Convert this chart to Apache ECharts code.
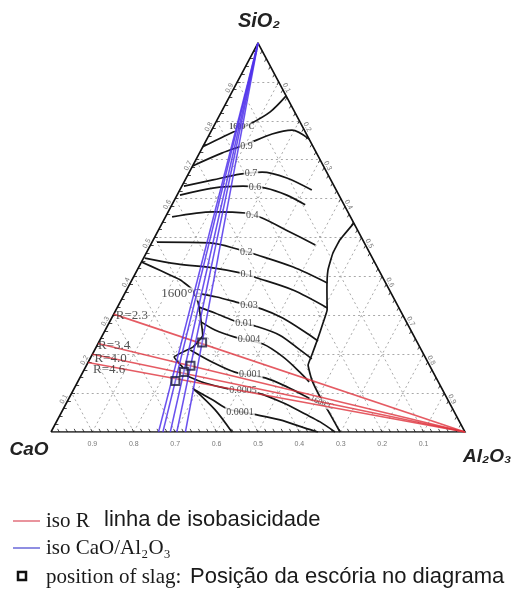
<!DOCTYPE html>
<html><head><meta charset="utf-8">
<script src="https://cdn.jsdelivr.net/npm/echarts@6/dist/echarts.min.js"></script>
<style>html,body{margin:0;padding:0;background:#fff}#c{width:513px;height:593px}</style>
</head><body><div id="c"></div>
<script>
// ---------- DATA (compositions in mass %, points given as [SiO2, Al2O3]; CaO = 100 - SiO2 - Al2O3) ----------
const tickValues = [0.1, 0.2, 0.3, 0.4, 0.5, 0.6, 0.7, 0.8, 0.9];
const bottomTickLabels = ['0.1','0.2','0.3','0.4','0.5','0.6','0.7','0.8','0.9']; // CaO
const leftTickLabels   = ['0.1','0.2','0.3','0.4','0.5','0.6','0.7','0.8','0.9']; // SiO2
const rightTickLabels  = ['0.1','0.2','0.3','0.4','0.5','0.6','0.7','0.8','0.9']; // Al2O3

const liquidusSiO2Side = [[73.3,0],[76.1,3.9],[79.2,8.5],[82.3,11.8],[86.4,13.6]];
const liquidusAl2O3Side = [[53.7,46.3],[49.4,45.1],[46.0,45.1],[41.6,46.1],[36.5,48.4],[31.4,51.0],[28.0,51.7],[23.7,52.5],[19.8,53.1],[17.2,53.5],[13.4,56.3],[9.0,60.5],[4.6,65.1],[0,69.8]];
const liquidusCaOSide = [[43.7,0],[41.6,5.5],[39.1,11.7],[36.5,16.0],[33.4,18.8],[29.3,21.5],[24.9,24.2],[21.9,23.4],[19.3,20.1],[16.5,23.7]];
const iso0_9 = [[68.4,0],[71.7,5.4],[74.0,10.3],[76.6,15.1],[77.6,19.4],[75.3,24.7]];
const iso0_7 = [[63.2,0.5],[64.8,6.7],[66.3,12.5],[66.8,17.6],[65.3,24.3],[62.2,31.9]];
const iso0_6 = [[60.9,0.7],[62.7,7.7],[63.2,14.8],[62.7,20.5],[60.9,26.5],[58.4,32.2]];
const iso0_4 = [[55.3,1.6],[56.6,10.8],[56.3,18.8],[55.0,23.5],[51.4,32.0],[48.1,39.8]];
const iso0_2 = [[48.8,1.2],[48.6,14.1],[46.8,22.3],[45.5,27.1],[42.4,37.3],[38.3,47.6]];
const iso0_1 = [[44.7,0.3],[43.2,8.8],[42.2,18.0],[40.9,25.3],[39.6,30.0],[36.5,40.2],[31.9,50.8]];
const iso0_03 = [[35.7,17.4],[34.7,22.7],[33.4,28.0],[31.6,35.2],[29.3,41.3],[25.4,49.1],[23.4,52.8]];
const iso0_01 = [[32.1,19.6],[30.6,24.3],[28.8,29.3],[27.2,35.9],[24.9,42.8],[21.1,49.6],[18.8,53.6]];
const iso0_004 = [[28.3,22.1],[26.2,26.5],[24.4,32.2],[22.6,39.9],[19.3,46.4],[15.4,52.4],[12.9,55.9]];
const iso0_001 = [[21.1,23.1],[18.0,29.9],[15.4,36.7],[13.9,44.8],[11.6,51.2],[9.0,57.3],[6.9,62.0]];
const iso0_0005 = [[14.4,25.7],[12.6,30.9],[11.1,37.3],[10.0,45.0],[7.5,52.3],[4.6,59.1],[2.6,63.7],[0,68.6]];
const iso0_0001 = [[10.8,29.4],[8.2,35.0],[5.9,39.8],[4.6,46.5],[3.1,53.8],[1.0,60.9],[0,64.5]];
const extraBoundary = [[11.3,28.6],[5.7,36.8],[0,43.7]];

const contourLabelTexts = ['1600°C','0.9','0.7','0.6','0.4','0.2','0.1','0.03','0.01','0.004','0.001','0.0005','0.0001','1600°C','1600°C'];
const contourLabelAt = [[78.4,6.9],[73.5,10.5],[66.6,15.0],[63.0,17.8],[55.8,20.7],[46.3,24.0],[40.4,27.1],[32.6,31.5],[28.0,32.6],[23.7,36.0],[14.7,40.8],[10.8,41.0],[5.1,43.1],[35.5,13.7],[7.5,61.7]];

const isoR = [2.3, 3.4, 4.0, 4.6];                 // CaO/SiO2
const isoCaOAl2O3 = [2.08, 2.29, 2.47, 2.70, 2.85]; // CaO/Al2O3
const slagCaO   = [52.0, 57.8, 60.2, 63.4];
const slagSiO2  = [23.0, 17.0, 15.4, 13.1];
const slagAl2O3 = [25.0, 25.2, 24.4, 23.5];

// ---------- helpers ----------
const T = (s, a) => [a / 100 + s / 200, s / 100];   // ternary -> cartesian (0..1)
const P = arr => arr.map(p => T(p[0], p[1]));

const series = [];

// grid lines (every 0.1)
const gridSegs = [];
tickValues.forEach(v => {
  const k = v * 100;
  gridSegs.push({coords: [T(k, 0), T(k, 100 - k)]});          // const SiO2
  gridSegs.push({coords: [T(0, 100 - k), T(100 - k, 0)]});    // const CaO
  gridSegs.push({coords: [T(0, k), T(100 - k, k)]});          // const Al2O3
});
series.push({type: 'lines', coordinateSystem: 'cartesian2d', silent: true, z: 1,
  data: gridSegs, lineStyle: {color: '#a0a0a0', width: 1, type: [2, 3], opacity: 0.9}});

// minor ticks on edges
const tickSegs = [];
for (let i = 1; i < 50; i++) {
  const v = i * 2, L = 0.8;
  tickSegs.push({coords: [T(0, v), T(L, v - L)]});
  tickSegs.push({coords: [T(v, 0), T(v, L)]});
  tickSegs.push({coords: [T(100 - v, v), T(100 - v - L, v)]});
}
series.push({type: 'lines', coordinateSystem: 'cartesian2d', silent: true, z: 2,
  data: tickSegs, lineStyle: {color: '#333', width: 0.9, opacity: 1}});

// triangle edges
series.push({type: 'lines', coordinateSystem: 'cartesian2d', polyline: true, silent: true, z: 3,
  data: [{coords: [T(0, 0), T(100, 0), T(0, 100), T(0, 0)]}], lineStyle: {color: '#111', width: 1.6, opacity: 1}});

// contour curves
const curves = [liquidusSiO2Side, iso0_9, iso0_7, iso0_6, iso0_4, iso0_2, iso0_1, iso0_03, iso0_01,
  iso0_004, iso0_001, iso0_0005, iso0_0001, extraBoundary];
curves.forEach(c => series.push({type: 'line', data: P(c), smooth: 0.3, symbol: 'none', silent: true, z: 4,
  lineStyle: {color: '#161616', width: 1.7}}));
[liquidusAl2O3Side, liquidusCaOSide].forEach(c => series.push({type: 'line', data: P(c), smooth: 0.12,
  symbol: 'none', silent: true, z: 4, lineStyle: {color: '#161616', width: 1.7}}));

// contour labels
const labelStyles = [
  {fontSize: 8, fontWeight: 'bold'}, {}, {}, {}, {}, {}, {}, {}, {}, {}, {}, {}, {},
  {fontSize: 13}, {fontSize: 8, rotate: -22}
];
series.push({type: 'scatter', symbolSize: 0, silent: true, z: 6,
  data: contourLabelTexts.map((t, i) => ({name: t, value: T(contourLabelAt[i][0], contourLabelAt[i][1]),
    label: Object.assign({show: true, position: 'inside', formatter: '{b}', fontFamily: 'Liberation Serif',
      fontSize: 10, color: '#1a1a1a', backgroundColor: '#fff', padding: [0, 1]}, labelStyles[i])}))});

// iso-R lines (red)
series.push({type: 'lines', coordinateSystem: 'cartesian2d', silent: true, z: 7,
  data: isoR.map(r => ({coords: [T(100 / (1 + r), 0), T(0, 100)]})),
  lineStyle: {color: 'rgb(222,50,60)', width: 1.6, opacity: 0.8}});
const rLabelOffsets = [[1, 1], [-1, 2], [1, 4], [4, 7]];
series.push({type: 'scatter', symbolSize: 0, silent: true, z: 8,
  data: isoR.map((r, i) => ({name: 'R=' + r.toFixed(1), value: T(100 / (1 + r), 0),
    label: {show: true, position: 'right', distance: 1, offset: rLabelOffsets[i], formatter: '{b}',
      fontFamily: 'Liberation Serif', fontSize: 13, color: '#2a2a2a'}}))});

// iso CaO/Al2O3 lines (blue)
series.push({type: 'lines', coordinateSystem: 'cartesian2d', silent: true, z: 7,
  data: isoCaOAl2O3.map(q => ({coords: [T(100, 0), T(0, 100 / (1 + q))]})),
  lineStyle: {color: 'rgb(80,50,235)', width: 1.5, opacity: 0.85}});

// slag positions
series.push({type: 'scatter', symbol: 'rect', symbolSize: 8, z: 9, silent: true,
  data: slagSiO2.map((s, i) => T(s, slagAl2O3[i])),
  itemStyle: {color: 'rgba(200,200,230,0.3)', borderColor: '#1c1c3c', borderWidth: 2}});

// tick labels
const tickLbl = {show: true, position: 'inside', formatter: '{b}', fontSize: 7, color: '#555', fontFamily: 'Liberation Sans'};
series.push({type: 'scatter', symbolSize: 0, silent: true, z: 5,
  data: tickValues.map((v, i) => ({name: bottomTickLabels[i], value: T(0, 100 - v * 100)})),
  label: Object.assign({}, tickLbl, {offset: [0, 12]})});
series.push({type: 'scatter', symbolSize: 0, silent: true, z: 5,
  data: tickValues.map((v, i) => ({name: leftTickLabels[i], value: T(v * 100, 0)})),
  label: Object.assign({}, tickLbl, {offset: [-9, -4], rotate: 62})});
series.push({type: 'scatter', symbolSize: 0, silent: true, z: 5,
  data: tickValues.map((v, i) => ({name: rightTickLabels[i], value: T(100 - v * 100, v * 100)})),
  label: Object.assign({}, tickLbl, {offset: [9, -4], rotate: -62})});

const chart = echarts.init(document.getElementById('c'), null, {renderer: 'canvas'});
chart.setOption({
  animation: false,
  backgroundColor: '#fff',
  grid: {left: 51, right: 48, top: 43, bottom: 161, containLabel: false},
  xAxis: {type: 'value', min: 0, max: 1, show: false},
  yAxis: {type: 'value', min: 0, max: 1, show: false},
  series: series,
  graphic: [
    {type: 'text', x: 259, y: 21, style: {text: 'SiO₂', font: 'italic bold 20px "Liberation Sans"', fill: '#222', textAlign: 'center', textVerticalAlign: 'middle', align: 'center', verticalAlign: 'middle'}},
    {type: 'text', x: 29, y: 450, style: {text: 'CaO', font: 'italic bold 19px "Liberation Sans"', fill: '#222', textAlign: 'center', textVerticalAlign: 'middle', align: 'center', verticalAlign: 'middle'}},
    {type: 'text', x: 463, y: 457, style: {text: 'Al₂O₃', font: 'italic bold 19px "Liberation Sans"', fill: '#222', textAlign: 'left', textVerticalAlign: 'middle', align: 'left', verticalAlign: 'middle'}},
    {type: 'line', shape: {x1: 13, y1: 521, x2: 40, y2: 521}, style: {stroke: '#e2707c', lineWidth: 1.5}},
    {type: 'text', x: 46, y: 521, style: {text: 'iso R', font: '21px "Liberation Serif"', fill: '#1a1a1a', textVerticalAlign: 'middle', verticalAlign: 'middle'}},
    {type: 'text', x: 104, y: 520, style: {text: 'linha de isobasicidade', font: '22px "Liberation Sans"', fill: '#1a1a1a', textVerticalAlign: 'middle', verticalAlign: 'middle'}},
    {type: 'line', shape: {x1: 13, y1: 548, x2: 40, y2: 548}, style: {stroke: '#6a68d8', lineWidth: 1.5}},
    {type: 'text', x: 46, y: 548, style: {text: 'iso CaO/Al₂O₃', font: '21px "Liberation Serif"', fill: '#1a1a1a', textVerticalAlign: 'middle', verticalAlign: 'middle'}},
    {type: 'rect', shape: {x: 18, y: 572, width: 8, height: 8}, style: {fill: '#fff', stroke: '#111', lineWidth: 2.5}},
    {type: 'text', x: 46, y: 577, style: {text: 'position of slag:', font: '21px "Liberation Serif"', fill: '#1a1a1a', textVerticalAlign: 'middle', verticalAlign: 'middle'}},
    {type: 'text', x: 190, y: 577, style: {text: 'Posição da escória no diagrama', font: '22px "Liberation Sans"', fill: '#1a1a1a', textVerticalAlign: 'middle', verticalAlign: 'middle'}}
  ]
});
</script>
</body></html>
